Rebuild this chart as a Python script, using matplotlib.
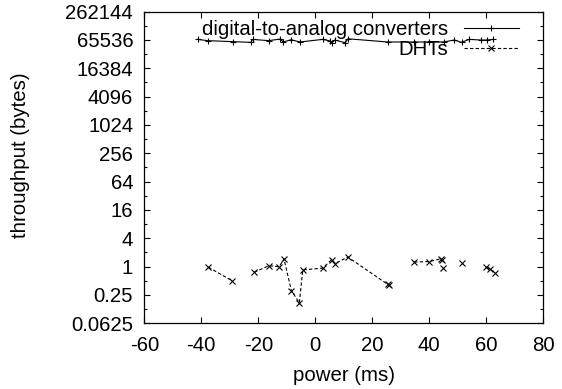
import numpy as np
import matplotlib
matplotlib.use("Agg")
import matplotlib.pyplot as plt
from matplotlib.ticker import FixedLocator, FixedFormatter, NullFormatter

plt.rcParams['font.family'] = ['Liberation Sans', 'DejaVu Sans']
FS = 14.7

# digital-to-analog converters
dac_x = [-41.3, -37.8, -29.0, -22.6, -22.0, -16.4, -12.4, -11.2, -8.5, -5.4,
         2.6, 5.2, 5.9, 6.8, 10.5, 11.5, 25.4, 34.7, 40.0, 45.0, 48.8, 51.3,
         54.0, 58.1, 60.1, 62.5]
dac_y = [67000, 63000, 60000, 58000, 67000, 63000, 68000, 59000, 66000, 59000,
         67000, 62000, 57000, 65000, 57000, 69000, 59000, 59000, 59000, 59000,
         65000, 58000, 67000, 65000, 65000, 67000]

# DHTs (NaN marks a break in the line)
dht_x = [-37.5, -29.2, np.nan, -21.4, -16.4, -12.6, -11.0, -8.4, -5.6, -4.4,
         2.6, 5.7, 6.9, 11.4, 25.4, 25.8, np.nan, 34.7, 40.0, 44.1, 44.3,
         np.nan, 44.9, np.nan, 51.3, np.nan, 59.9, 61.3, 63.0]
dht_y = [0.97, 0.50, np.nan, 0.76, 1.04, 1.00, 1.47, 0.31, 0.17, 0.85,
         0.93, 1.40, 1.15, 1.60, 0.42, 0.41, np.nan, 1.25, 1.28, 1.47, 1.35,
         np.nan, 0.93, np.nan, 1.19, np.nan, 0.97, 0.88, 0.74]

yticks = [0.0625, 0.25, 1, 4, 16, 64, 256, 1024, 4096, 16384, 65536, 262144]
ytick_labels = ["0.0625", "0.25", "1", "4", "16", "64", "256", "1024",
                "4096", "16384", "65536", "262144"]
xticks = [-60, -40, -20, 0, 20, 40, 60, 80]

fig = plt.figure(figsize=(5.62, 3.89), dpi=100)
ax = fig.add_axes([144.3 / 562, (389 - 323.3) / 389, (543.3 - 144.3) / 562,
                   (323.3 - 11.5) / 389])

ax.plot(dac_x, dac_y, color='black', lw=0.8, marker='+', ms=5, mew=0.8,
        label='digital-to-analog converters')
ax.plot(dht_x, dht_y, color='black', lw=0.8, ls=(0, (3, 2)), marker='x',
        ms=4, mew=0.8, label='DHTs')

ax.set_yscale('log')
ax.set_ylim(0.0625, 262144)
ax.set_xlim(-60, 80)
ax.yaxis.set_major_locator(FixedLocator(yticks))
ax.yaxis.set_major_formatter(FixedFormatter(ytick_labels))
ax.yaxis.set_minor_locator(FixedLocator([2 * t for t in yticks[:-1]]))
ax.yaxis.set_minor_formatter(NullFormatter())
ax.set_xticks(xticks)
ax.set_xticklabels([str(t) for t in xticks])

ax.tick_params(which='both', direction='in', top=True, right=True,
               labelsize=FS, width=0.8)
ax.tick_params(which='major', length=4.5)
ax.tick_params(which='minor', length=2.2)
ax.tick_params(axis='y', pad=8)
ax.tick_params(axis='x', pad=9)
for s in ax.spines.values():
    s.set_linewidth(0.9)

ax.set_xlabel('power (ms)', fontsize=FS, labelpad=8)
ax.set_ylabel('throughput (bytes)', fontsize=FS)
ax.yaxis.set_label_coords(-0.286, 0.54)

leg = ax.legend(loc='upper right', bbox_to_anchor=(0.939, 0.972),
                frameon=False, markerfirst=False, fontsize=FS,
                handlelength=2.7, handletextpad=0.78, labelspacing=0.05,
                borderpad=0, borderaxespad=0)
for t in leg.get_texts():
    t.set_ha('right')

fig.savefig('out.png', dpi=100)
